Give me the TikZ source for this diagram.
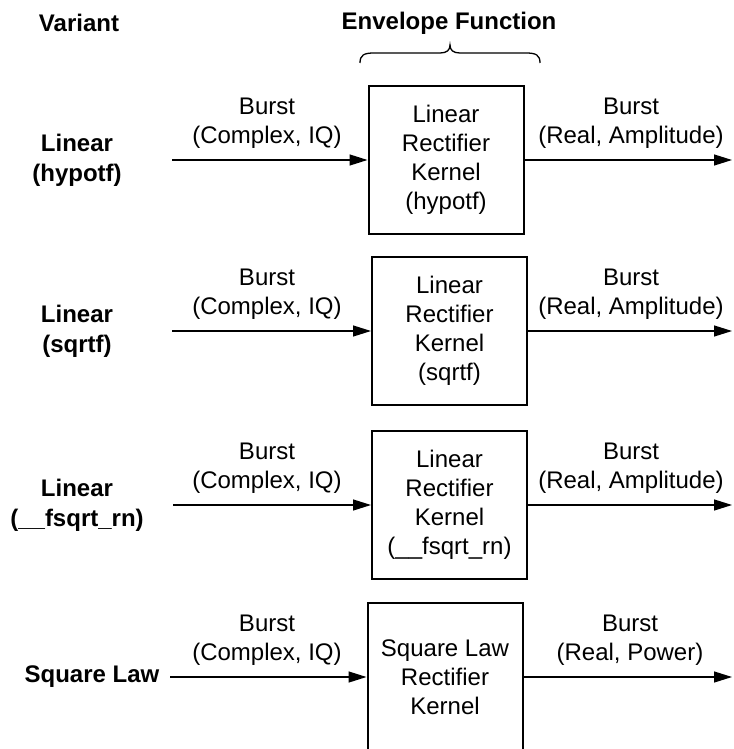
\documentclass[tikz,border=0pt]{standalone}
\usepackage{fontspec}
\setmainfont{Liberation Sans}
\usetikzlibrary{arrows.meta}
\begin{document}
\begin{tikzpicture}[x=1pt,y=-1pt,
  txt/.style={font=\fontsize{24}{29}\selectfont, align=center, inner sep=0pt},
  head/.style={txt, font=\fontsize{24}{30}\selectfont\bfseries},
  kernel/.style={draw, line width=2pt, txt, minimum width=155pt, minimum height=148pt},
  flow/.style={line width=1.3pt, -{Triangle[length=18pt,width=11pt]}},
  lbl/.style={txt, anchor=south},
  bracket/.style={line width=1.3pt}]
\useasboundingbox (0,0) rectangle (733,749);

% column headings
\node[head] (hvar) at (79,23) {Variant};
\node[head] (henv) at (449,23) {Envelope Function};
\draw[bracket] (360,63) .. controls (360,55) and (364,53) .. (374,53)
  -- (440,53) .. controls (447,53) and (450,50) .. (450,45)
  .. controls (450,50) and (453,53) .. (460,53)
  -- (526,53) .. controls (536,53) and (540,55) .. (540,63);

% row 1: linear, hypotf
\node[head] (v1) at (77,160) {Linear\\(hypotf)};
\node[kernel] (k1) at (446,160) {Linear\\Rectifier\\Kernel\\(hypotf)};
\coordinate (i1) at (172,160);
\coordinate (o1) at (732,160);
\node[lbl] (li1) at (267,149) {Burst\\(Complex, IQ)};
\node[lbl] (lo1) at (631,149) {Burst\\(Real, Amplitude)};
\draw[flow] (i1) -- (k1.west);
\draw[flow] (k1.east) -- (o1);

% row 2: linear, sqrtf
\node[head] (v2) at (77,331) {Linear\\(sqrtf)};
\node[kernel] (k2) at (449.5,331) {Linear\\Rectifier\\Kernel\\(sqrtf)};
\coordinate (i2) at (172,331);
\coordinate (o2) at (732,331);
\node[lbl] (li2) at (267,320) {Burst\\(Complex, IQ)};
\node[lbl] (lo2) at (631,320) {Burst\\(Real, Amplitude)};
\draw[flow] (i2) -- (k2.west);
\draw[flow] (k2.east) -- (o2);

% row 3: linear, __fsqrt_rn
\node[head] (v3) at (77,505) {Linear\\(\_\_fsqrt\_rn)};
\node[kernel] (k3) at (449.5,505) {Linear\\Rectifier\\Kernel\\(\_\_fsqrt\_rn)};
\coordinate (i3) at (173,505);
\coordinate (o3) at (732,505);
\node[lbl] (li3) at (267,494) {Burst\\(Complex, IQ)};
\node[lbl] (lo3) at (631,494) {Burst\\(Real, Amplitude)};
\draw[flow] (i3) -- (k3.west);
\draw[flow] (k3.east) -- (o3);

% row 4: square law
\node[head] (v4) at (92,677) {Square Law};
\node[kernel] (k4) at (445,677) {Square Law\\Rectifier\\Kernel};
\coordinate (i4) at (170,677);
\coordinate (o4) at (732,677);
\node[lbl] (li4) at (267,666) {Burst\\(Complex, IQ)};
\node[lbl] (lo4) at (630,666) {Burst\\(Real, Power)};
\draw[flow] (i4) -- (k4.west);
\draw[flow] (k4.east) -- (o4);
\end{tikzpicture}
\end{document}
